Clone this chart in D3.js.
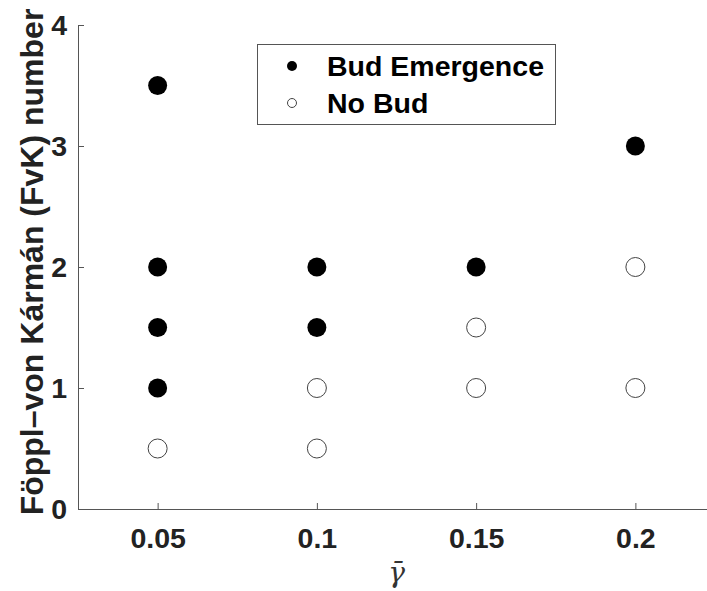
<!DOCTYPE html>
<html>
<head>
<meta charset="utf-8">
<script src="https://cdn.jsdelivr.net/npm/d3@7"></script>
<style>
  body { margin: 0; background: #fff; }
  text { font-family: "Liberation Sans", Arial, sans-serif; }
</style>
</head>
<body>
<svg id="chart" width="707" height="591"></svg>
<script>
// Data
const budGamma = [0.05, 0.05, 0.05, 0.05, 0.1, 0.1, 0.15, 0.2];
const budFvk   = [3.5, 2, 1.5, 1, 2, 1.5, 2, 3];
const noBudGamma = [0.05, 0.1, 0.1, 0.15, 0.15, 0.2, 0.2];
const noBudFvk   = [0.5, 1, 0.5, 1.5, 1, 2, 1];
const xTicks = [0.05, 0.1, 0.15, 0.2];
const yTicks = [0, 1, 2, 3, 4];

const svg = d3.select("#chart");

const margin = {top: 25, left: 78, bottom: 82};
const height = 591 - margin.top - margin.bottom;

// x domain runs past the window edge, as in the original
const x = d3.scaleLinear().domain([0.025, 0.225]).range([margin.left, 715]);
const y = d3.scaleLinear().domain([0, 4]).range([margin.top + height, margin.top]);

const axisColor = "#555";

// X axis
const xAxis = d3.axisBottom(x)
  .tickValues(xTicks)
  .tickFormat(d => String(d))
  .tickSizeInner(-6)
  .tickSizeOuter(0)
  .tickPadding(19);

const gx = svg.append("g")
  .attr("transform", "translate(0," + y(0) + ")")
  .call(xAxis);
gx.select(".domain").attr("stroke", axisColor);
gx.selectAll(".tick line").attr("stroke", axisColor);
gx.selectAll(".tick text")
  .attr("fill", "#222")
  .style("font-size", "28.5px")
  .style("font-weight", "bold");

// Y axis
const yAxis = d3.axisLeft(y)
  .tickValues(yTicks)
  .tickFormat(d3.format("d"))
  .tickSizeInner(-6)
  .tickSizeOuter(0)
  .tickPadding(11);

const gy = svg.append("g")
  .attr("transform", "translate(" + margin.left + ",0)")
  .call(yAxis);
gy.select(".domain").attr("stroke", axisColor);
gy.selectAll(".tick line").attr("stroke", axisColor);
gy.selectAll(".tick text")
  .attr("fill", "#222")
  .style("font-size", "28.5px")
  .style("font-weight", "bold");

// Axis labels
svg.append("text")
  .attr("transform", "translate(43," + (y(2) - 5) + ") rotate(-90)")
  .attr("text-anchor", "middle")
  .attr("fill", "#222")
  .style("font-size", "32px")
  .style("font-weight", "bold")
  .text("Föppl–von Kármán (FvK) number");

svg.append("text")
  .attr("x", (x.range()[0] + x.range()[1]) / 2)
  .attr("y", 582)
  .attr("text-anchor", "middle")
  .attr("fill", "#333")
  .style("font-size", "28px")
  .style("font-family", "'DejaVu Serif', serif")
  .style("font-style", "italic")
  .text("γ\u0304");

// Points
svg.append("g").selectAll("circle")
  .data(d3.range(budGamma.length))
  .join("circle")
  .attr("cx", i => x(budGamma[i]))
  .attr("cy", i => y(budFvk[i]))
  .attr("r", 9.5)
  .attr("fill", "#000");

svg.append("g").selectAll("circle")
  .data(d3.range(noBudGamma.length))
  .join("circle")
  .attr("cx", i => x(noBudGamma[i]))
  .attr("cy", i => y(noBudFvk[i]))
  .attr("r", 9.5)
  .attr("fill", "#fff")
  .attr("stroke", "#444")
  .attr("stroke-width", 1);

// Legend
const legend = svg.append("g");
legend.append("rect")
  .attr("x", 257.5).attr("y", 44.5)
  .attr("width", 298).attr("height", 80)
  .attr("fill", "#fff")
  .attr("stroke", "#555");

const legendItems = [
  {label: "Bud Emergence", fill: "#000", stroke: "none", r: 5},
  {label: "No Bud", fill: "#fff", stroke: "#444", r: 4.5}
];
legendItems.forEach((d, i) => {
  const cy = 66 + i * 37;
  legend.append("circle")
    .attr("cx", 292).attr("cy", cy).attr("r", d.r)
    .attr("fill", d.fill).attr("stroke", d.stroke);
  legend.append("text")
    .attr("x", 327).attr("y", cy + 10)
    .attr("fill", "#000")
    .style("font-size", "28.5px")
    .style("font-weight", "bold")
    .text(d.label);
});
</script>
</body>
</html>
